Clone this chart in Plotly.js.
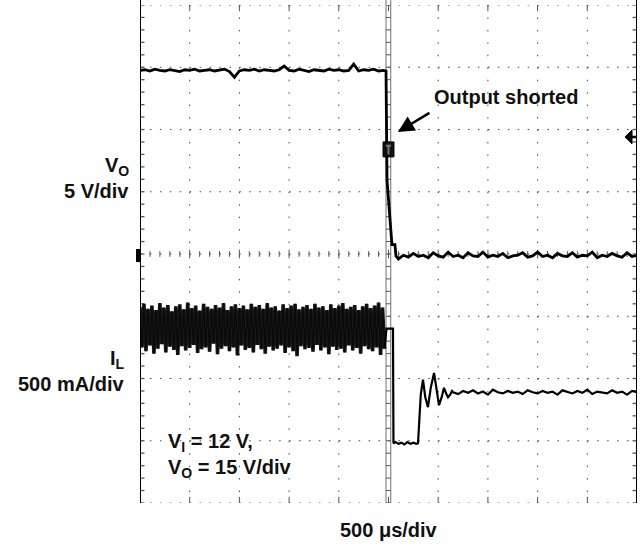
<!DOCTYPE html>
<html>
<head>
<meta charset="utf-8">
<script src="https://cdn.plot.ly/plotly-3.0.1.min.js"></script>
<style>html,body{margin:0;padding:0;background:#fff;}#chart{width:641px;height:545px;}</style>
</head>
<body>
<div id="chart"></div>
<script>
// ---- DATA (time in µs, signal in screen divisions) ----
const timeUnitsPerDiv = 500; // 500 µs/div
// V_O before the short (sampled every 50 µs from -2500 µs)
const voHigh = [2.95,2.96,2.94,2.97,2.95,2.94,2.96,2.95,2.93,2.96,
  2.95,2.97,2.94,2.95,2.96,2.94,2.95,2.97,2.93,2.84,
  2.94,2.96,2.95,2.97,2.94,2.96,2.95,2.94,2.96,3.02,
  2.95,2.94,2.97,2.95,2.93,2.96,2.95,2.94,2.97,2.95,
  2.96,2.94,2.95,3.05,2.94,2.96,2.95,2.97,2.94,2.95];
// V_O falling edge
const voEdgeT = [-25, -15, 25, 35, 65, 75];
const voEdgeV = [2.94, 1.19, 0.35, 0.15, 0.15, -0.03];
// V_O after the short (sampled every 50 µs from 100 µs)
const voLow = [-0.08,-0.02,-0.05,0.01,-0.04,-0.02,-0.06,0.02,-0.03,-0.05,
  0.03,-0.04,-0.02,-0.06,0.02,-0.03,-0.04,0.03,-0.05,-0.02,
  -0.04,0.01,-0.06,-0.03,-0.02,0.02,-0.05,-0.03,0.03,-0.04,
  -0.02,-0.06,0.01,-0.03,-0.04,0.02,-0.05,-0.02,-0.03,0.03,
  -0.06,-0.02,-0.04,0.01,-0.03,-0.05,0.02,-0.04,-0.02];
// I_L switching ripple: upper and lower peaks, alternating every 20 µs from -2500 µs
const ilRippleHi = [-0.85,-0.80,-0.88,-0.83,-0.90,-0.79,-0.86,-0.82,-0.92,-0.84,
  -0.81,-0.89,-0.78,-0.87,-0.83,-0.91,-0.80,-0.85,-0.88,-0.82,
  -0.86,-0.79,-0.90,-0.84,-0.81,-0.87,-0.83,-0.89,-0.80,-0.85,
  -0.82,-0.88,-0.79,-0.86,-0.84,-0.91,-0.81,-0.87,-0.83,-0.80,
  -0.89,-0.85,-0.82,-0.88,-0.80,-0.86,-0.84,-0.90,-0.81,-0.87,
  -0.83,-0.79,-0.88,-0.85,-0.82,-0.90,-0.84,-0.80,-0.87,-0.83,
  -0.78,-0.86];
const ilRippleLo = [-1.50,-1.56,-1.47,-1.60,-1.52,-1.45,-1.58,-1.49,-1.54,-1.62,
  -1.48,-1.55,-1.51,-1.46,-1.59,-1.53,-1.50,-1.57,-1.44,-1.61,
  -1.52,-1.48,-1.56,-1.50,-1.63,-1.47,-1.54,-1.51,-1.58,-1.46,
  -1.53,-1.60,-1.49,-1.55,-1.52,-1.47,-1.59,-1.50,-1.56,-1.64,
  -1.48,-1.53,-1.51,-1.57,-1.46,-1.55,-1.50,-1.61,-1.49,-1.54,
  -1.52,-1.58,-1.47,-1.55,-1.51,-1.60,-1.48,-1.53,-1.56,-1.50,
  -1.62,-1.52];
// I_L at the short: drop, current limit, ringing
const ilEdgeT = [-20, 45, 50, 70, 100, 130, 160, 190, 220, 250, 280, 297, 310, 325, 347, 370, 397, 425, 458, 485, 508, 535, 558, 580, 599, 620, 639];
const ilEdgeV = [-1.2, -1.2, -3.04, -3.02, -3.05, -3.03, -3.06, -3.02, -3.05, -3.03, -3.05, -3.04, -2.7, -2.25, -2.02, -2.3, -2.46, -2.15, -1.91, -2.2, -2.43, -2.3, -2.15, -2.24, -2.30, -2.26, -2.20];
// I_L settled (sampled every 50 µs from 650 µs)
const ilSettle = [-2.22,-2.25,-2.20,-2.23,-2.19,-2.24,-2.21,-2.26,-2.18,-2.22,
  -2.24,-2.20,-2.23,-2.21,-2.25,-2.19,-2.22,-2.24,-2.20,-2.23,
  -2.21,-2.26,-2.19,-2.22,-2.24,-2.20,-2.23,-2.18,-2.25,-2.21,
  -2.22,-2.24,-2.19,-2.23,-2.21,-2.26,-2.20,-2.22];

// ---- build series ----
const seq = (t0, dt, n) => Array.from({length: n}, (_, i) => t0 + i * dt);
const voT = [].concat(seq(-2500, 50, voHigh.length), voEdgeT, seq(100, 50, voLow.length));
const voV = [].concat(voHigh, voEdgeV, voLow);
const ilRipple = [];
ilRippleHi.forEach((h, i) => { ilRipple.push(h, ilRippleLo[i]); });
const ilRipT = seq(-2500, 20, ilRipple.length);
const ilPostT = [].concat(ilEdgeT, seq(650, 50, ilSettle.length));
const ilPostV = [].concat(ilEdgeV, ilSettle);

const FONT = 'Liberation Sans, Arial, Helvetica, sans-serif';
const XMIN = -5 * timeUnitsPerDiv, XMAX = 5 * timeUnitsPerDiv;

const traces = [
  {x: ilRipT, y: ilRipple, mode: 'lines', line: {color: '#666', width: 1.5}, hoverinfo: 'skip'},
  {x: ilRipT, y: ilRipple, mode: 'lines', line: {color: '#000', width: 3.6}, hoverinfo: 'skip', opacity: 0.9},
  {x: [ilRipT[ilRipT.length - 1]].concat(ilPostT), y: [ilRipple[ilRipple.length - 1]].concat(ilPostV), mode: 'lines', line: {color: '#000', width: 2.2}, hoverinfo: 'skip'},
  {x: voT, y: voV, mode: 'lines', line: {color: '#000', width: 2.8}, hoverinfo: 'skip'}
];

// ---- graticule ----
const shapes = [];
const dotV = '1.5px,10.95px', dotH = '1.5px,8.44px';
for (let i = -4; i <= 4; i++) {
  if (i === 0) continue;
  shapes.push({type: 'line', xref: 'x', yref: 'y', x0: i * timeUnitsPerDiv, x1: i * timeUnitsPerDiv, y0: 4, y1: -4,
    line: {color: '#444', width: 1, dash: dotV}, layer: 'below'});
}
for (let j = -4; j <= 4; j++) {
  shapes.push({type: 'line', xref: 'x', yref: 'y', x0: XMIN, x1: XMAX, y0: j, y1: j,
    line: {color: '#444', width: 1, dash: dotH}, layer: 'below'});
}
// center horizontal ticks + edge ticks
for (let k = -25; k <= 25; k++) {
  const t = k * 100;
  const h = (k % 5 === 0) ? 0.07 : 0.045;
  shapes.push({type: 'line', xref: 'x', yref: 'y', x0: t, x1: t, y0: -h, y1: h, line: {color: '#555', width: 1}, layer: 'below'});
  if (k % 5 === 0) {
    shapes.push({type: 'line', xref: 'x', yref: 'y', x0: t, x1: t, y0: 4, y1: 3.9, line: {color: '#555', width: 1}, layer: 'below'});
    shapes.push({type: 'line', xref: 'x', yref: 'y', x0: t, x1: t, y0: -4, y1: -3.9, line: {color: '#555', width: 1}, layer: 'below'});
  }
}
// center vertical ladder
shapes.push({type: 'line', xref: 'x', yref: 'paper', x0: -25, x1: -25, y0: 0, y1: 1.01, line: {color: '#888', width: 1.2}, layer: 'below'});
shapes.push({type: 'line', xref: 'x', yref: 'paper', x0: 22, x1: 22, y0: 0, y1: 1.01, line: {color: '#888', width: 1.2}, layer: 'below'});
for (let k = -20; k <= 20; k++) {
  const y = k * 0.2;
  shapes.push({type: 'line', xref: 'x', yref: 'y', x0: -25, x1: 22, y0: y, y1: y, line: {color: '#555', width: 1}, layer: 'below'});
  shapes.push({type: 'line', xref: 'x', yref: 'y', x0: XMIN, x1: XMIN + 45, y0: y, y1: y, line: {color: '#555', width: 1.3}, layer: 'below'});
  shapes.push({type: 'line', xref: 'x', yref: 'y', x0: XMAX - 45, x1: XMAX, y0: y, y1: y, line: {color: '#555', width: 1.3}, layer: 'below'});
}
// borders
shapes.push({type: 'line', xref: 'x', yref: 'paper', x0: XMIN, x1: XMIN, y0: 0, y1: 1.01, line: {color: '#000', width: 2}});
shapes.push({type: 'line', xref: 'x', yref: 'paper', x0: XMAX, x1: XMAX, y0: 0, y1: 1.01, line: {color: '#000', width: 2}});
// ground marker (left)
shapes.push({type: 'rect', xref: 'paper', yref: 'y', x0: -0.008, x1: 0, y0: -0.13, y1: 0.08, fillcolor: '#000', line: {width: 0}});
// trigger level arrow (right)
shapes.push({type: 'path', xref: 'x', yref: 'y', path: 'M 2380,1.88 L 2450,1.99 L 2450,1.77 Z', fillcolor: '#000', line: {color: '#000', width: 1}});
shapes.push({type: 'line', xref: 'x', yref: 'y', x0: 2440, x1: 2500, y0: 1.88, y1: 1.88, line: {color: '#000', width: 2.5}});
// trigger position box
shapes.push({type: 'rect', xref: 'x', yref: 'y', x0: -55, x1: 55, y0: 1.56, y1: 1.80, fillcolor: '#111', line: {color: '#000', width: 1}, layer: 'above'});
shapes.push({type: 'line', xref: 'x', yref: 'y', x0: 0, x1: 0, y0: 1.6, y1: 1.74, line: {color: '#777', width: 2}, layer: 'above'});
shapes.push({type: 'line', xref: 'x', yref: 'y', x0: -25, x1: 25, y0: 1.74, y1: 1.74, line: {color: '#777', width: 2}, layer: 'above'});

// ---- text ----
const W = 497, H = 498, L = 140, T = 5;
const px = v => (v - L) / W;
const py = v => (T + H - v) / H;
const txt = (text, x, y, xa) => ({text: '<b>' + text + '</b>', xref: 'paper', yref: 'paper', x: px(x), y: py(y),
  xanchor: xa, yanchor: 'middle', showarrow: false, font: {family: FONT, size: 20, color: '#111'}, borderpad: 0});
const annotations = [
  txt('V<sub>O</sub>', 130, 166, 'right'),
  txt('5 V/div', 130, 191, 'right'),
  txt('I<sub>L</sub>', 126, 359, 'right'),
  txt('500 mA/div', 125, 384, 'right'),
  txt('V<sub>I</sub> = 12 V,', 167, 442, 'left'),
  txt('V<sub>O</sub> = 15 V/div', 167, 468, 'left'),
  txt('Output shorted', 506, 97, 'center'),
  txt('500 μs/div', 389, 530, 'center'),
  {x: 95, y: 1.96, xref: 'x', yref: 'y', ax: 33, ay: -20, text: '', showarrow: true,
   arrowhead: 2, arrowsize: 1.3, arrowwidth: 2.5, arrowcolor: '#000', standoff: 0}
];

const layout = {
  width: 641, height: 545,
  margin: {l: 140, r: 4, t: 5, b: 42, pad: 0},
  paper_bgcolor: '#fff', plot_bgcolor: '#fff',
  showlegend: false,
  xaxis: {range: [XMIN, XMAX], showgrid: false, zeroline: false, showticklabels: false, ticks: '', showline: false, fixedrange: true},
  yaxis: {range: [-4, 4], showgrid: false, zeroline: false, showticklabels: false, ticks: '', showline: false, fixedrange: true},
  shapes: shapes,
  annotations: annotations
};
Plotly.newPlot('chart', traces, layout, {staticPlot: true, displayModeBar: false});
</script>
</body>
</html>
